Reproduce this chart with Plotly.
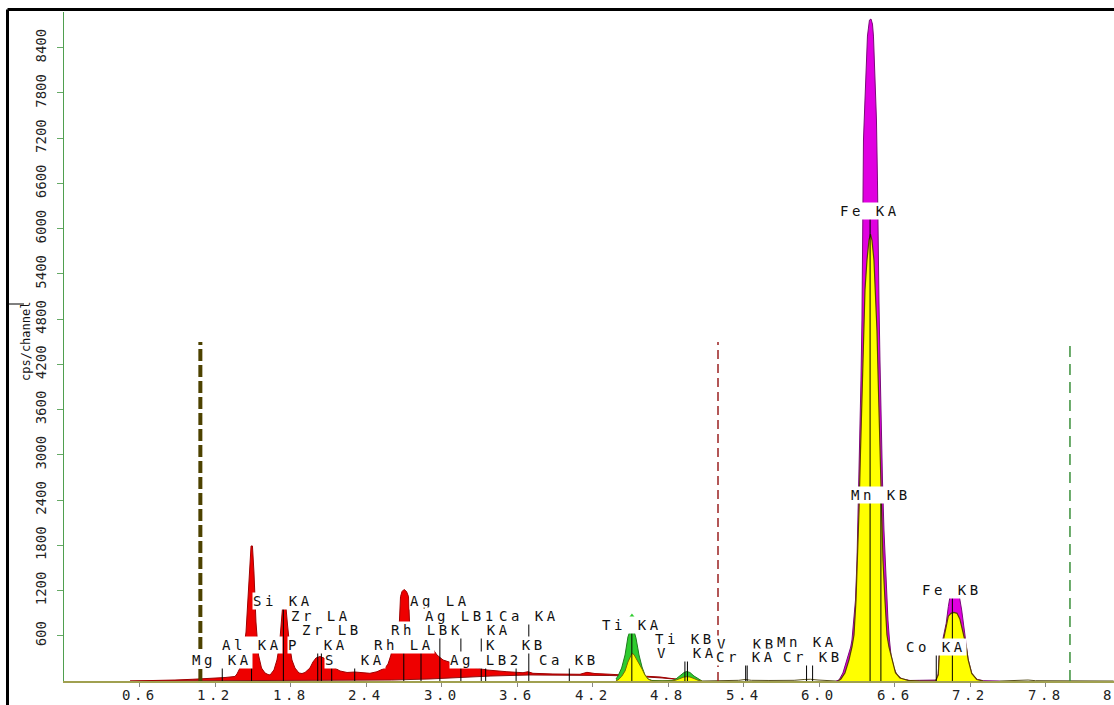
import plotly.graph_objects as go

# ---------------- data (energy in keV, intensity in cps/channel) ----------------
# low-energy part of the spectrum (red region)
low_keV = [0.521, 0.680, 0.878, 1.021, 1.157, 1.276, 1.355,
           1.371, 1.395, 1.419, 1.443, 1.459, 1.475, 1.483, 1.494, 1.506, 1.522, 1.542, 1.566, 1.594, 1.618,
           1.634, 1.665, 1.689, 1.709, 1.721, 1.733, 1.745, 1.761, 1.773, 1.789, 1.808, 1.832, 1.864, 1.888,
           1.912, 1.951, 1.975, 1.999, 2.031, 2.062, 2.095, 2.134, 2.190, 2.246, 2.309, 2.365, 2.428, 2.484, 2.548, 2.572,
           2.595, 2.619, 2.635, 2.651, 2.663, 2.671, 2.683, 2.699, 2.719, 2.735, 2.742, 2.754, 2.810, 2.867, 2.906,
           2.938, 2.961, 3.009, 3.088, 3.223, 3.359, 3.517, 3.645, 3.684, 3.724, 3.883, 4.018, 4.098, 4.153, 4.217,
           4.297, 4.376, 4.416, 4.599, 4.734, 4.853, 4.972, 5.052]
low_cps = [0, 4, 13, 23, 33, 46, 60,
           93, 172, 345, 650, 1074, 1565, 1791, 1791, 1446, 783, 345, 172, 106, 86,
           80, 146, 279, 478, 743, 968, 988, 968, 743, 478, 279, 172, 106, 99,
           113, 172, 252, 305, 325, 305, 252, 186, 133, 113, 119, 110, 102, 123, 172, 225,
           345, 544, 584, 597, 809, 1118, 1187, 1214, 1187, 1118, 809, 597, 584, 577, 478,
           398, 345, 279, 235, 190, 146, 123, 110, 123, 102, 93, 89, 89, 115, 99,
           93, 86, 80, 73, 53, 27, 13, 7]
# continuum background under the low-energy region
bkg_keV = [0.521, 1.2, 2.0, 2.6, 2.906, 3.148, 3.390, 3.700, 4.018, 4.336, 4.5, 4.75, 4.97, 5.052]
bkg_cps = [0, 4, 7, 13, 27, 46, 66, 80, 80, 73, 66, 40, 7, 0]

# Ti KA / Ti KB - V KA region (measured and fitted)
ti_keV = [4.384, 4.400, 4.429, 4.456, 4.479, 4.495, 4.511, 4.527, 4.543, 4.567, 4.591, 4.614, 4.638, 4.670,
          4.750, 4.829, 4.861, 4.893, 4.925, 4.948, 4.972, 5.004, 5.036, 5.068]
ti_total_cps = [27, 66, 172, 345, 584, 663, 670, 663, 570, 345, 186, 80, 27, 7,
                2, 5, 27, 66, 113, 126, 113, 66, 27, 0]
ti_fit_cps = [7, 13, 60, 133, 252, 318, 367, 350, 305, 225, 160, 80, 27, 0,
              0, 0, 13, 36, 53, 57, 53, 33, 10, 0]
ti_peak_mark = [4.511, 862]

# Mn / Fe / Co region (measured)
fe_keV = [6.133, 6.157, 6.188, 6.220, 6.250, 6.260, 6.276, 6.288, 6.300, 6.308, 6.316, 6.3235, 6.3315,
          6.3394, 6.3434, 6.3474, 6.3514, 6.3633, 6.3752, 6.3831, 6.3911, 6.3990, 6.4110, 6.4229, 6.4308,
          6.4428, 6.4547, 6.4626, 6.4666, 6.4745, 6.4825, 6.4904, 6.5024, 6.5143, 6.5302, 6.5461, 6.5580,
          6.5700, 6.5938, 6.6176, 6.6574, 6.7210, 6.7965, 6.85, 6.918, 6.933, 6.946, 6.954, 6.973, 6.988,
          7.009, 7.026, 7.039, 7.071, 7.113, 7.132, 7.150, 7.166, 7.184, 7.212, 7.252, 7.304, 7.436]
fe_total_cps = [0, 13, 106, 279, 451, 544, 809, 1074, 1605, 2136, 2666, 3329, 3993,
                4788, 5584, 6380, 7176, 7706, 8237, 8555, 8661, 8767, 8781, 8714, 8555,
                8104, 7441, 6645, 5849, 5054, 4258, 3462, 2666, 2003, 1340, 809, 544,
                345, 172, 80, 27, 7, 9, 13, 9, 13, 100, 367, 480, 600,
                765, 986, 1118, 1127, 1127, 942, 720, 544, 279, 102, 23, 4, 0]
# Mn / Fe / Co region (fitted)
fefit_keV = [6.149, 6.172, 6.204, 6.236, 6.260, 6.276, 6.292, 6.304, 6.316, 6.328, 6.3394, 6.3514, 6.3633,
             6.3792, 6.3951, 6.4070, 6.4189, 6.4348, 6.4467, 6.4587, 6.4706, 6.4825, 6.4944, 6.5064, 6.5223,
             6.5382, 6.5541, 6.5779, 6.6057, 6.6415, 6.7051, 6.7965, 6.925, 6.946, 6.954, 6.973, 6.988,
             7.009, 7.026, 7.047, 7.071, 7.095, 7.118, 7.142, 7.166, 7.184, 7.212, 7.252, 7.304]
fe_fit_cps = [0, 27, 106, 279, 451, 610, 1074, 1605, 2268, 3064, 3860, 4656, 5186,
              5584, 5849, 5929, 5849, 5584, 5186, 4656, 3860, 3064, 2268, 1605, 1074,
              610, 451, 279, 110, 40, 9, 0, 0, 80, 340, 430, 544,
              700, 860, 898, 909, 898, 820, 650, 480, 279, 100, 20, 0]

# weak parts of the spectrum between the regions
tail_keV = [5.068, 5.25, 5.36, 5.41, 5.46, 5.60, 5.80, 5.88, 5.93, 5.99, 6.07, 6.133, None,
            7.436, 7.60, 7.66, 7.72, 8.34]
tail_cps = [0, 4, 9, 20, 9, 7, 9, 20, 23, 13, 9, 0, None,
            0, 4, 13, 4, 0]

# element line markers
line_keV = [1.254, 1.487, 1.740, 2.042, 2.124, 2.013, 2.307, 2.697, 2.834, 2.984, 3.151, 3.691, 3.313,
            3.590, 3.348, 4.013, 4.510, 4.932, 4.952, 5.427, 5.415, 5.899, 5.947, 6.404, 6.490, 7.058, 6.930]
line_labels = ["Mg KA", "Al KA", "Si KA", "Zr LA", "Zr LB", "P\u00a0 KA", "S\u00a0 KA", "Rh LA", "Rh LB",
               "Ag LA", "Ag LB1", "Ca KA", "K\u00a0 KA", "K\u00a0 KB", "Ag LB2", "Ca KB", "Ti KA", "Ti KB",
               "V\u00a0 KA", "V\u00a0 KB", "Cr KA", "Mn KA", "Cr KB", "Fe KA", "Mn KB", "Fe KB", "Co KA"]
label_cps = [279, 478, 1061, 862, 676, 478, 285, 478, 676, 1061, 862, 862, 676,
             478, 285, 285, 743, 557, 367, 497, 314, 521, 314, 6234, 2467, 1207, 451]

# region-of-interest limits (dashed lines)
roi_keV = [1.08, 5.195, 7.993]
roi_top_cps = 4496

x_ticks = [0.6, 1.2, 1.8, 2.4, 3.0, 3.6, 4.2, 4.8, 5.4, 6.0, 6.6, 7.2, 7.8, 8.4]
x_ticktext = ["0.6", "1.2", "1.8", "2.4", "3.0", "3.6", "4.2", "4.8", "5.4", "6.0", "6.6", "7.2", "7.8", "8.4"]
y_ticks = [600, 1200, 1800, 2400, 3000, 3600, 4200, 4800, 5400, 6000, 6600, 7200, 7800, 8400]
y_ticktext = [str(v) for v in y_ticks]

# ---------------- styling ----------------
MONO = "DejaVu Sans Mono"
SP = "letter-spacing:3.5px"
X0_PX, PX_PER_KEV, PLOT_W = 64.5, 125.8, 1050   # horizontal geometry of the plot area


def spaced(t):
    return f'<span style="{SP}">{t}</span>'


fig = go.Figure()

# red low-energy region: continuum then spectrum filled to it
fig.add_trace(go.Scatter(x=bkg_keV, y=bkg_cps, mode="lines",
                         line=dict(color="#8b1010", width=1), hoverinfo="skip"))
fig.add_trace(go.Scatter(x=low_keV, y=low_cps, mode="lines", fill="tonexty",
                         fillcolor="#ee0000", line=dict(color="#a00000", width=1), hoverinfo="skip"))

# Ti region
fig.add_trace(go.Scatter(x=ti_keV, y=ti_total_cps, mode="lines", fill="tozeroy",
                         fillcolor="#2ecc2e", line=dict(color="#1f7a1f", width=1), hoverinfo="skip"))
fig.add_trace(go.Scatter(x=ti_keV, y=ti_fit_cps, mode="lines", fill="tozeroy",
                         fillcolor="#ffff00", line=dict(color="#7a6a00", width=1), hoverinfo="skip"))

# Mn/Fe/Co region
fig.add_trace(go.Scatter(x=fe_keV, y=fe_total_cps, mode="lines", fill="tozeroy",
                         fillcolor="#e000e0", line=dict(color="#7a0a7a", width=1), hoverinfo="skip"))
fig.add_trace(go.Scatter(x=fefit_keV, y=fe_fit_cps, mode="lines", fill="tozeroy",
                         fillcolor="#ffff00", line=dict(color="#5a4000", width=1.2), hoverinfo="skip"))

# weak spectrum tails
fig.add_trace(go.Scatter(x=tail_keV, y=tail_cps, mode="lines",
                         line=dict(color="#5a5020", width=1), hoverinfo="skip"))

# element line markers (vertical lines up to just below their labels)
mx, my = [], []
for e, c in zip(line_keV, label_cps):
    mx += [e, e, None]
    my += [0, c - 75, None]
fig.add_trace(go.Scatter(x=mx, y=my, mode="lines", line=dict(color="#000000", width=1), hoverinfo="skip"))

# region-of-interest dashed lines
roi_styles = [("#4d4200", 4, "12px,4px"), ("#9b2020", 1.5, "9px,5px"), ("#3a8f3a", 1.5, "11px,7px")]
for e, (col, w, dash) in zip(roi_keV, roi_styles):
    fig.add_trace(go.Scatter(x=[e, e], y=[0, roi_top_cps], mode="lines",
                             line=dict(color=col, width=w, dash=dash), hoverinfo="skip"))

# small peak marker on Ti KA
fig.add_trace(go.Scatter(x=[ti_peak_mark[0]], y=[ti_peak_mark[1]], mode="markers",
                         marker=dict(symbol="triangle-up", size=5, color="#2ecc2e"), hoverinfo="skip"))

# element labels
for e, t, c in zip(line_keV, line_labels, label_cps):
    fig.add_annotation(x=e, y=c, text=spaced(t), showarrow=False, bgcolor="#ffffff",
                       borderpad=0, font=dict(family=MONO, size=14, color="#111111"),
                       xanchor="center", yanchor="middle")

# x tick labels (placed just below the axis; the last one is cut by the page edge)
for v, t in zip(x_ticks, x_ticktext):
    fig.add_annotation(xref="paper", yref="paper", x=(X0_PX + v * PX_PER_KEV - 64) / PLOT_W,
                       y=-14 / 669, text=spaced(t), showarrow=False, xanchor="center",
                       yanchor="middle", font=dict(family=MONO, size=14, color="#222222"))

# y-axis title
fig.add_annotation(xref="paper", yref="paper", x=(17 - 64) / 1050, y=(681 - 342) / 669,
                   text="cps/channel", textangle=-90, showarrow=False,
                   font=dict(family=MONO, size=12, color="#111111"))

# outer black frame (left and top) and small title bracket
fig.add_shape(type="line", xref="paper", yref="paper", x0=(7.5 - 64) / 1050, x1=(7.5 - 64) / 1050,
              y0=-0.05, y1=(681 - 9.5) / 669, line=dict(color="#000000", width=3))
fig.add_shape(type="line", xref="paper", yref="paper", x0=(7.5 - 64) / 1050, x1=1.02,
              y0=(681 - 9.5) / 669, y1=(681 - 9.5) / 669, line=dict(color="#000000", width=3))
fig.add_shape(type="line", xref="paper", yref="paper", x0=(7.5 - 64) / 1050, x1=(24 - 64) / 1050,
              y0=(681 - 304) / 669, y1=(681 - 304) / 669, line=dict(color="#000000", width=1))

fig.update_layout(
    width=1114, height=705,
    margin=dict(l=64, r=0, t=12, b=24),
    paper_bgcolor="#ffffff", plot_bgcolor="#ffffff",
    showlegend=False,
    xaxis=dict(range=[-0.004, 8.343], tickvals=x_ticks[:-1], showticklabels=False,
               ticks="outside", ticklen=4, tickcolor="#888888", showline=True, linecolor="#a0a050",
               linewidth=1.5, showgrid=False, zeroline=False, automargin=False),
    yaxis=dict(range=[0, 8874], tickvals=y_ticks, ticktext=y_ticktext, tickangle=-90,
               ticks="outside", ticklen=6, tickcolor="#66aa66", showline=True, linecolor="#4f9f4f",
               linewidth=1, showgrid=False, zeroline=False, ticklabelstandoff=5, automargin=False,
               tickfont=dict(family=MONO, size=14, color="#222222")),
)

fig.write_html("out.html", config={"displayModeBar": False},
               post_script="document.body.style.margin='0';document.body.style.overflow='hidden';")
